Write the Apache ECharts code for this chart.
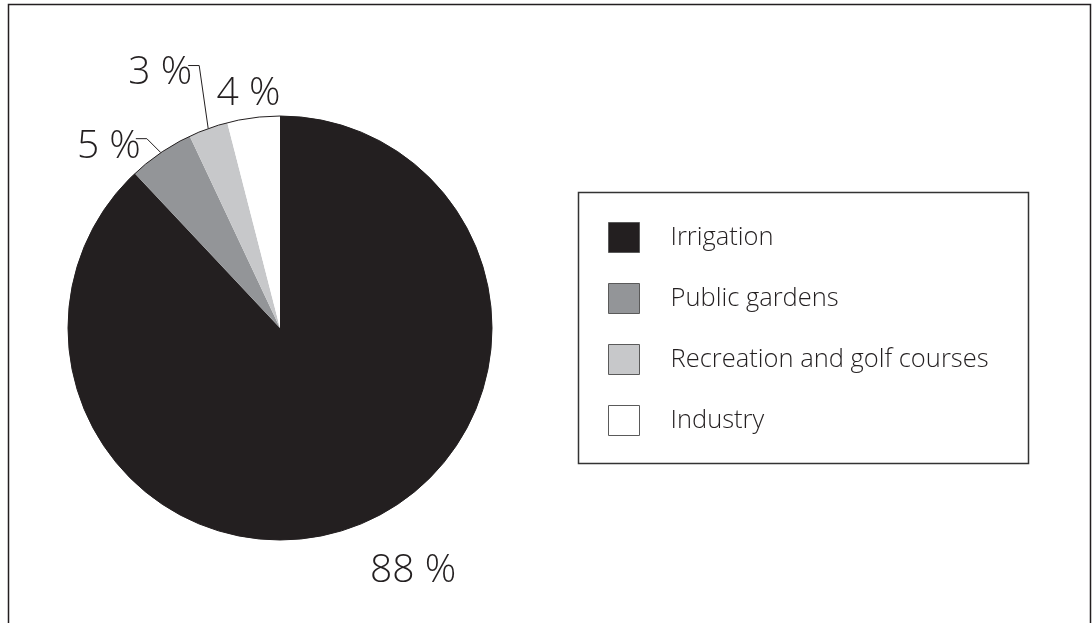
<!DOCTYPE html>
<html>
<head>
<meta charset="utf-8">
<title>Water use by sector</title>
<script src="https://cdn.jsdelivr.net/npm/echarts@6/dist/echarts.min.js"></script>
<style>
  html, body { margin: 0; padding: 0; background: #ffffff; }
  #chart { width: 1092px; height: 623px; }
</style>
</head>
<body>
<div id="chart"></div>
<script>
// Share of water use by sector (percent)
const categories = ['Irrigation', 'Public gardens', 'Recreation and golf courses', 'Industry'];
const shares = [88, 5, 3, 4];
const sliceColors = ['#231f20', '#939598', '#c7c8ca', '#ffffff'];

const FONT = '"Open Sans", "Noto Sans", sans-serif';
const INK = '#231f20';
const CENTER = [280, 328];
const RADIUS = 212;

// mid-angle point on the rim of each slice (clockwise from 12 o'clock)
const total = shares.reduce((a, b) => a + b, 0);
function rimPoint(i) {
  let before = 0;
  for (let k = 0; k < i; k++) before += shares[k];
  const theta = ((before + shares[i] / 2) / total) * Math.PI * 2;
  return [CENTER[0] + RADIUS * Math.sin(theta), CENTER[1] - RADIUS * Math.cos(theta)];
}

// label placement relative to the slice's rim point
const labelPlacement = [
  { dx: 55, dy: 46, align: 'center' },
  { dx: -20, dy: -6, align: 'right', line: [[-14, -14], [-25, -14]] },
  { dx: -16, dy: -56, align: 'right', line: [[-9, -63], [-20, -63]] },
  { dx: -5, dy: -24, align: 'center' }
];

const chart = echarts.init(document.getElementById('chart'), null, { renderer: 'canvas' });

chart.setOption({
  animation: false,
  backgroundColor: '#ffffff',
  legend: {
    data: categories,
    orient: 'vertical',
    left: 608,
    top: 222,
    padding: 0,
    itemWidth: 31,
    itemHeight: 30,
    itemGap: 30,
    icon: 'rect',
    selectedMode: false,
    itemStyle: { borderColor: '#5a5a5a', borderWidth: 1 },
    textStyle: { fontFamily: FONT, fontWeight: 350, fontSize: 25.5, color: INK, padding: [0, 0, 0, 26] }
  },
  graphic: [
    {
      type: 'polyline',
      silent: true,
      shape: { points: [[8.5, 700], [8.5, 4.5], [1090.5, 4.5], [1090.5, 700]] },
      style: { stroke: '#231f20', lineWidth: 1.5, fill: 'none' }
    },
    {
      type: 'rect',
      silent: true,
      shape: { x: 578.5, y: 192.5, width: 450, height: 271 },
      style: { stroke: '#333333', lineWidth: 1.5, fill: 'none' }
    }
  ],
  series: [
    {
      type: 'pie',
      center: CENTER,
      radius: RADIUS,
      startAngle: 90,
      clockwise: true,
      silent: true,
      avoidLabelOverlap: false,
      itemStyle: { borderWidth: 0 },
      label: {
        show: true,
        position: 'outside',
        formatter: p => p.value + ' %',
        fontFamily: FONT,
        fontWeight: 350,
        fontSize: 39,
        color: INK
      },
      labelLine: {
        lineStyle: { color: INK, width: 1 }
      },
      labelLayout: function (params) {
        const i = params.dataIndex;
        const e = rimPoint(i);
        const pl = labelPlacement[i];
        const out = {
          x: e[0] + pl.dx,
          y: e[1] + pl.dy,
          align: pl.align,
          verticalAlign: 'middle'
        };
        if (pl.line) {
          out.labelLinePoints = [e, [e[0] + pl.line[0][0], e[1] + pl.line[0][1]], [e[0] + pl.line[1][0], e[1] + pl.line[1][1]]];
        }
        return out;
      },
      data: categories.map((name, i) => ({
        name: name,
        value: shares[i],
        itemStyle: { color: sliceColors[i] },
        labelLine: { show: !!labelPlacement[i].line }
      }))
    },
    {
      // thin rim around the whole pie
      type: 'pie',
      center: CENTER,
      radius: RADIUS,
      silent: true,
      label: { show: false },
      labelLine: { show: false },
      itemStyle: { color: 'rgba(0,0,0,0)', borderColor: INK, borderWidth: 1 },
      data: [{ name: 'rim', value: total }]
    }
  ]
});
</script>
</body>
</html>
